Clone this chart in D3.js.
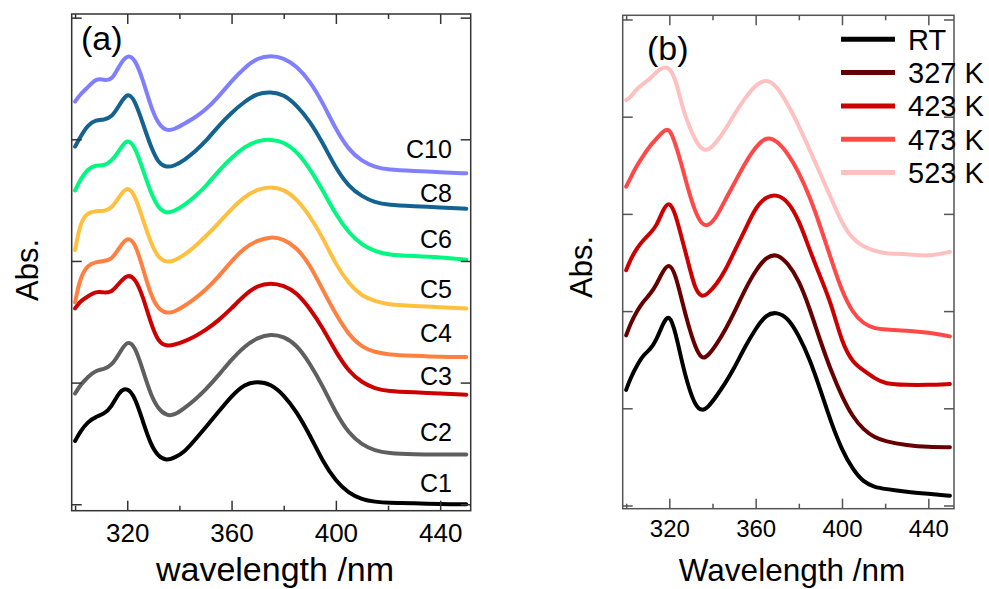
<!DOCTYPE html>
<html>
<head>
<meta charset="utf-8">
<script src="https://cdn.jsdelivr.net/npm/d3@7"></script>
<style>
    body { margin: 0; background: #fff; }
    text { font-family: "Liberation Sans", Arial, sans-serif; }
</style>
</head>
<body>
<div id="chart"></div>
<script>
// wavelength grid (nm) used for both panels
const wavelengths = [300, 302, 305, 308, 311, 314, 317, 320, 323, 326, 329, 332, 335, 338, 342, 346, 350,
    355, 360, 365, 370, 375, 380, 385, 390, 395, 400, 405, 410, 415, 420, 430, 440, 450];

// panel (a): offset absorbance spectra
const c1 = [0.52, 0.60, 0.68, 0.72, 0.74, 0.80, 0.93, 0.96, 0.88, 0.68, 0.49, 0.39, 0.36, 0.38, 0.43, 0.53, 0.63,
    0.76, 0.89, 0.99, 1.01, 0.99, 0.90, 0.76, 0.57, 0.35, 0.19, 0.09, 0.04, 0.02, 0.01, 0.01, 0.00, 0.00];
const c2 = [0.91, 0.98, 1.05, 1.10, 1.11, 1.14, 1.24, 1.35, 1.30, 1.10, 0.90, 0.78, 0.73, 0.73, 0.79, 0.86, 0.94,
    1.06, 1.19, 1.30, 1.37, 1.40, 1.38, 1.31, 1.16, 0.97, 0.75, 0.58, 0.49, 0.44, 0.42, 0.41, 0.41, 0.41];
const c3 = [1.61, 1.67, 1.71, 1.75, 1.74, 1.74, 1.82, 1.89, 1.86, 1.71, 1.49, 1.33, 1.30, 1.31, 1.34, 1.38, 1.43,
    1.51, 1.61, 1.72, 1.80, 1.82, 1.80, 1.74, 1.61, 1.45, 1.25, 1.09, 1.00, 0.95, 0.93, 0.92, 0.91, 0.90];
const c4 = [1.66, 1.87, 1.97, 1.99, 2.00, 2.01, 2.11, 2.20, 2.15, 1.94, 1.72, 1.60, 1.57, 1.58, 1.63, 1.69, 1.76,
    1.87, 2.00, 2.11, 2.17, 2.20, 2.18, 2.11, 1.97, 1.76, 1.56, 1.39, 1.29, 1.25, 1.23, 1.22, 1.21, 1.21];
const c5 = [2.09, 2.32, 2.40, 2.41, 2.41, 2.43, 2.53, 2.62, 2.54, 2.34, 2.15, 2.02, 1.99, 2.00, 2.05, 2.12, 2.20,
    2.31, 2.43, 2.53, 2.59, 2.61, 2.59, 2.51, 2.37, 2.19, 1.97, 1.81, 1.71, 1.67, 1.64, 1.63, 1.62, 1.61];
const c6 = [2.58, 2.67, 2.76, 2.79, 2.78, 2.82, 2.91, 3.01, 2.94, 2.75, 2.56, 2.43, 2.39, 2.41, 2.46, 2.53, 2.61,
    2.74, 2.85, 2.94, 2.99, 3.00, 2.98, 2.90, 2.76, 2.58, 2.38, 2.23, 2.13, 2.08, 2.05, 2.04, 2.03, 2.01];
const c8 = [2.94, 3.02, 3.12, 3.16, 3.16, 3.18, 3.28, 3.39, 3.32, 3.13, 2.94, 2.80, 2.77, 2.78, 2.83, 2.90, 2.98,
    3.11, 3.22, 3.31, 3.38, 3.39, 3.37, 3.28, 3.15, 2.97, 2.76, 2.61, 2.53, 2.48, 2.46, 2.45, 2.44, 2.43];
const c10 = [3.31, 3.37, 3.43, 3.50, 3.49, 3.48, 3.61, 3.70, 3.66, 3.49, 3.27, 3.12, 3.07, 3.08, 3.13, 3.18, 3.24,
    3.35, 3.48, 3.59, 3.67, 3.69, 3.67, 3.60, 3.48, 3.30, 3.08, 2.91, 2.82, 2.77, 2.75, 2.74, 2.73, 2.72];
const namesA = ["C1", "C2", "C3", "C4", "C5", "C6", "C8", "C10"];

// panel (b): temperature series
const rt = [1.19, 1.31, 1.44, 1.55, 1.60, 1.70, 1.87, 1.98, 1.77, 1.46, 1.21, 1.03, 0.97, 1.01, 1.13, 1.26, 1.41,
    1.63, 1.82, 1.97, 1.99, 1.93, 1.75, 1.51, 1.19, 0.85, 0.57, 0.37, 0.24, 0.19, 0.17, 0.14, 0.12, 0.10];
const k327 = [1.75, 1.87, 2.00, 2.10, 2.17, 2.27, 2.41, 2.50, 2.37, 2.09, 1.84, 1.63, 1.50, 1.54, 1.66, 1.81, 1.98,
    2.22, 2.42, 2.56, 2.59, 2.49, 2.32, 2.03, 1.69, 1.38, 1.12, 0.91, 0.78, 0.70, 0.66, 0.62, 0.60, 0.60];
const k423 = [2.42, 2.53, 2.65, 2.73, 2.80, 2.87, 3.04, 3.14, 2.99, 2.73, 2.48, 2.22, 2.14, 2.18, 2.28, 2.42, 2.61,
    2.83, 3.07, 3.18, 3.20, 3.13, 2.94, 2.63, 2.35, 2.08, 1.67, 1.47, 1.39, 1.31, 1.25, 1.24, 1.24, 1.25];
const k473 = [3.28, 3.37, 3.50, 3.60, 3.70, 3.77, 3.85, 3.89, 3.71, 3.48, 3.23, 3.02, 2.89, 2.87, 2.97, 3.15, 3.31,
    3.52, 3.69, 3.80, 3.75, 3.62, 3.43, 3.18, 2.87, 2.53, 2.20, 1.98, 1.87, 1.82, 1.81, 1.80, 1.78, 1.74];
const k523 = [4.17, 4.20, 4.29, 4.34, 4.39, 4.46, 4.51, 4.51, 4.38, 4.10, 3.91, 3.76, 3.66, 3.65, 3.74, 3.87, 4.02,
    4.19, 4.33, 4.39, 4.31, 4.12, 3.91, 3.66, 3.41, 3.16, 2.90, 2.74, 2.66, 2.62, 2.59, 2.59, 2.56, 2.61];
const namesB = ["RT", "327 K", "423 K", "473 K", "523 K"];

const majorTicks = [320, 360, 400, 440];
const minorTicks = [300, 340, 380, 420];

const colorsA = ["#000000", "#5f5f5f", "#cc0000", "#ff8040", "#ffc040", "#00f880", "#13628f", "#8080ff"];
const colorsB = ["#000000", "#660000", "#cc0000", "#ff4848", "#ffc0c0"];
// label baseline shift (px) relative to the curve at 440 nm
const labelDy = { C1: -12, C2: -13, C3: -9, C4: -15, C5: -9, C6: -9, C8: -5, C10: -14 };

document.addEventListener("DOMContentLoaded", setup);

function setup() {
    const svg = d3.select("#chart").append("svg")
        .attr("width", 989)
        .attr("height", 589);
    svg.append("rect").attr("width", 989).attr("height", 589).attr("fill", "#fff");

    const seriesA = [c1, c2, c3, c4, c5, c6, c8, c10].map((v, i) => ({ name: namesA[i], values: v, color: colorsA[i] }));
    const seriesB = [rt, k327, k423, k473, k523].map((v, i) => ({ name: namesB[i], values: v, color: colorsB[i] }));

    const pA = drawPanel(svg, {
        left: 71.7, right: 470.7, top: 14, bottom: 510.7,
        xDomain: [298.7, 451.7], yDomain: [-0.053, 4.03], yTicks: [0, 1, 2, 3, 4],
        frame: "#333", fontSize: 26, pad: 12.5
    }, seriesA);
    drawPanel(svg, {
        left: 622.7, right: 954, top: 15.3, bottom: 508.7,
        xDomain: [298.4, 451.9], yDomain: [-0.033, 5.043], yTicks: [0, 1, 2, 3, 4, 5],
        frame: "#555", fontSize: 24, pad: 11.6
    }, seriesB);

    // curve labels in (a)
    const i440 = wavelengths.indexOf(440);
    svg.append("g").selectAll("text")
        .data(seriesA)
        .enter()
        .append("text")
        .attr("x", pA.x(444.5))
        .attr("y", d => pA.y(d.values[i440]) + labelDy[d.name])
        .attr("text-anchor", "end")
        .attr("font-size", 25)
        .text(d => d.name);

    // legend in (b)
    const legend = svg.append("g").attr("transform", "translate(841,39.3)");
    const rows = legend.selectAll("g")
        .data(seriesB)
        .enter()
        .append("g")
        .attr("transform", (d, i) => `translate(0,${i * 33.3})`);
    rows.append("line")
        .attr("x1", 0).attr("x2", 54)
        .attr("stroke", d => d.color)
        .attr("stroke-width", 5);
    rows.append("text")
        .attr("x", 67).attr("y", 10.5)
        .attr("font-size", 29)
        .text(d => d.name);

    // panel letters
    svg.append("text").attr("x", 81).attr("y", 50).attr("font-size", 34).text("(a)");
    svg.append("text").attr("x", 647).attr("y", 60).attr("font-size", 34).text("(b)");

    // axis titles
    svg.append("text").attr("x", 275).attr("y", 581).attr("text-anchor", "middle")
        .attr("font-size", 34).text("wavelength /nm");
    svg.append("text").attr("x", 792).attr("y", 581).attr("text-anchor", "middle")
        .attr("font-size", 31.5).text("Wavelength /nm");
    svg.append("text").attr("transform", "translate(38,270) rotate(-90)").attr("text-anchor", "middle")
        .attr("font-size", 31).text("Abs.");
    svg.append("text").attr("transform", "translate(592,267) rotate(-90)").attr("text-anchor", "middle")
        .attr("font-size", 31).text("Abs.");
}

function drawPanel(svg, o, series) {
    const x = d3.scaleLinear().domain(o.xDomain).range([o.left, o.right]);
    const y = d3.scaleLinear().domain(o.yDomain).range([o.bottom, o.top]);
    const g = svg.append("g");

    const line = d3.line()
        .x((d, i) => x(wavelengths[i]))
        .y(d => y(d))
        .curve(d3.curveBasis);
    g.append("g")
        .selectAll("path")
        .data(series)
        .enter()
        .append("path")
        .attr("d", d => line(d.values))
        .attr("fill", "none")
        .attr("stroke", d => d.color)
        .attr("stroke-width", 4)
        .attr("stroke-linejoin", "round")
        .attr("stroke-linecap", "round");

    // ticks point inward on every side
    const addAxis = (axis, tx, ty, labels) => {
        const a = g.append("g")
            .attr("transform", `translate(${tx},${ty})`)
            .call(axis);
        a.select(".domain").remove();
        a.selectAll("line").attr("stroke", o.frame).attr("stroke-width", 1.5);
        if (!labels) a.selectAll("text").remove();
        else a.selectAll("text")
            .attr("font-size", o.fontSize)
            .attr("fill", "#000")
            .attr("font-family", "Liberation Sans, Arial, sans-serif");
    };
    addAxis(d3.axisBottom(x).tickValues(majorTicks).tickSize(-10).tickSizeOuter(0).tickPadding(o.pad), 0, o.bottom, true);
    addAxis(d3.axisBottom(x).tickValues(minorTicks).tickSize(-5).tickSizeOuter(0), 0, o.bottom, false);
    addAxis(d3.axisTop(x).tickValues(majorTicks).tickSize(-10).tickSizeOuter(0), 0, o.top, false);
    addAxis(d3.axisTop(x).tickValues(minorTicks).tickSize(-5).tickSizeOuter(0), 0, o.top, false);
    addAxis(d3.axisLeft(y).tickValues(o.yTicks).tickSize(-10).tickSizeOuter(0), o.left, 0, false);
    addAxis(d3.axisRight(y).tickValues(o.yTicks).tickSize(-10).tickSizeOuter(0), o.right, 0, false);

    g.append("rect")
        .attr("x", o.left).attr("y", o.top)
        .attr("width", o.right - o.left)
        .attr("height", o.bottom - o.top)
        .attr("fill", "none")
        .attr("stroke", o.frame)
        .attr("stroke-width", 1.5);

    return { x: x, y: y };
}
</script>
</body>
</html>
